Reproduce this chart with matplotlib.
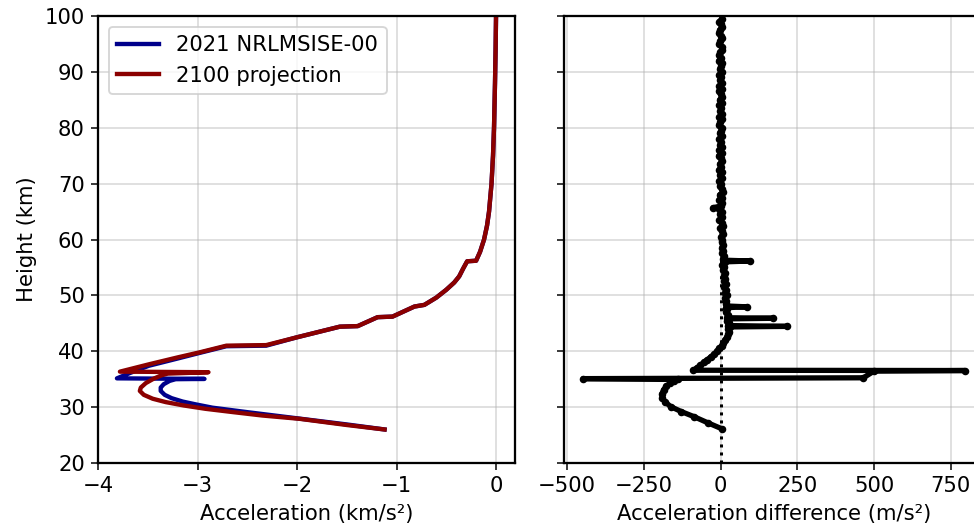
import matplotlib.pyplot as plt

plt.rcParams["font.size"] = 11.2

# left panel: acceleration profiles (km/s^2) vs height (km)
blue_acc = [-1.12, -1.5, -2.0, -2.5, -2.85, -3.02, -3.15, -3.26, -3.33, -3.37, -3.37,
            -3.34, -3.28, -3.22, -2.93, -3.81, -3.68, -3.49, -3.2, -2.98, -2.71,
            -2.31, -2.0, -1.57, -1.39, -1.19, -1.04, -0.82, -0.72, -0.6, -0.5,
            -0.42, -0.37, -0.33, -0.29, -0.2, -0.16, -0.12, -0.09, -0.07, -0.045,
            -0.03, -0.02, -0.01, -0.004, 0.0]
blue_h = [26.0, 26.9, 28.0, 29.1, 29.9, 30.5, 31.0, 31.6, 32.2, 32.9, 33.5,
          34.1, 34.7, 35.0, 35.05, 35.15, 36.1, 37.4, 38.7, 39.7, 40.9,
          41.0, 42.5, 44.4, 44.5, 46.1, 46.2, 48.0, 48.3, 49.6, 51.0,
          52.3, 53.4, 54.8, 56.1, 56.2, 57.8, 60.0, 62.5, 65.0, 70.0,
          75.0, 80.0, 88.0, 94.0, 99.5]

red_acc = [-1.12, -1.5, -1.97, -2.35, -2.64, -2.92, -3.14, -3.32, -3.45, -3.54,
           -3.58, -3.57, -3.52, -3.44, -3.36, -3.3, -2.89, -3.78, -3.48, -3.2,
           -2.98, -2.71, -2.31, -2.0, -1.57, -1.39, -1.19, -1.04, -0.82, -0.72,
           -0.6, -0.5, -0.42, -0.37, -0.33, -0.29, -0.2, -0.16, -0.12, -0.09,
           -0.07, -0.045, -0.03, -0.02, -0.01, -0.004, 0.0]
red_h = [26.0, 26.8, 27.9, 28.5, 29.1, 29.7, 30.3, 30.9, 31.5, 32.2,
         32.9, 33.5, 34.3, 35.1, 35.7, 36.0, 36.25, 36.35, 37.7, 38.9,
         39.8, 41.0, 41.1, 42.5, 44.4, 44.5, 46.1, 46.2, 48.0, 48.3,
         49.6, 51.0, 52.3, 53.4, 54.8, 56.1, 56.2, 57.8, 60.0, 62.5,
         65.0, 70.0, 75.0, 80.0, 88.0, 94.0, 99.5]

# right panel: acceleration difference (m/s^2) vs height (km)
diff_h = [99.5, 99, 98.5, 98, 97.5, 97, 96.5, 96, 95.5, 95, 94.5, 94, 93.5, 93,
          92.5, 92, 91.5, 91, 90.5, 90, 89.5, 89, 88.5, 88, 87.5, 87, 86.5, 86,
          85.5, 85, 84.5, 84, 83.5, 83, 82.5, 82, 81.5, 81, 80.5, 80, 79.5, 79,
          78.5, 78, 77.5, 77, 76.5, 76, 75.5, 75, 74.5, 74, 73.5, 73, 72.5, 72,
          71.5, 71, 70.5, 70, 69.5, 69, 68.5, 68, 67.5, 67, 66.5, 66, 65.7, 65.5,
          65, 64.5, 64, 63.5, 63, 62.5, 62, 61.5, 61, 60.5, 60, 59.5, 59, 58.5,
          58, 57.5, 57, 56.5, 56.3, 56.15, 56.0, 55.5, 55, 54.5, 54, 53.5, 53,
          52.5, 52, 51.5, 51, 50.5, 50, 49.5, 49, 48.5, 48.1, 47.95, 47.8, 47.5,
          47, 46.5, 46.0, 45.9, 45.8, 45.5, 45, 44.6, 44.45, 44.35, 44, 43.5, 43,
          42.5, 42, 41.5, 41, 40.5, 40, 39.5, 39, 38.5, 38, 37.5, 37, 36.6,
          36.55, 36.45, 35.25, 35.1, 34.95, 34.6, 34.3, 33.7, 33.1, 32.4, 31.6,
          30.9, 30.1, 29.2, 28.3, 27.2, 26.1]
diff_val = [3, -4, 2, 5, -3, -6, 1, 4, -2, -5, 3, 6, -1, -4,
            2, -6, 5, 1, -3, 4, -5, 2, -2, 6, -4, 3, -6, 1,
            4, -3, 5, -5, 2, -2, 6, -4, 3, -1, -6, 4, 1, -3,
            5, -5, 2, -2, 6, -4, 3, -6, 1, 5, -3, 2, -5, 4,
            -1, 6, -4, 2, -2, 5, 8, -3, 3, -5, 4, 1, -24, -6,
            5, -2, 6, -4, 3, 7, -1, 5, 9, 2, 6, 3, 8, 4,
            9, 5, 10, 7, 12, 95, 14, 6, 11, 8, 14, 10, 15,
            11, 17, 12, 18, 14, 20, 15, 19, 16, 21, 85, 18, 22,
            17, 24, 20, 170, 26, 21, 27, 23, 215, 29, 24, 28, 25,
            20, 14, 9, 3, -4, -12, -21, -32, -43, -55, -66, -78, -89,
            796, 500, 465, -448, -140, -152, -165, -178, -186, -191, -190,
            -180, -163, -128, -87, -42, 5]

left_ticks = [-4, -3, -2, -1, 0]
right_ticks = [-500, -250, 0, 250, 500, 750]
height_ticks = [20, 30, 40, 50, 60, 70, 80, 90, 100]

fig = plt.figure(figsize=(974 / 136, 528 / 136), dpi=136)
ax1 = fig.add_axes([0.1006, 0.1231, 0.4281, 0.8466])
ax2 = fig.add_axes([0.5791, 0.1231, 0.4312, 0.8466])

ax1.plot(blue_acc, blue_h, color="#00008B", lw=2.3, label="2021 NRLMSISE-00")
ax1.plot(red_acc, red_h, color="#8B0000", lw=2.3, label="2100 projection")
ax1.set_xticks(left_ticks)
ax1.set_yticks(height_ticks)
ax1.set_ylim(20, 100)
ax1.set_xlabel("Acceleration (km/s²)")
ax1.set_ylabel("Height (km)")
ax1.legend(loc="upper left")

ax2.axvline(0, color="k", ls=":", lw=1.6)
ax2.plot(diff_val, diff_h, "k-", lw=2.8, marker="o", ms=3,
         solid_capstyle="round", solid_joinstyle="round")
ax2.set_xticks(right_ticks)
ax2.set_yticks(height_ticks)
ax2.set_ylim(20, 100)
ax2.tick_params(labelleft=False)
ax2.set_xlabel("Acceleration difference (m/s²)")

for ax in (ax1, ax2):
    ax.grid(True, alpha=0.5)
    for s in ax.spines.values():
        s.set_linewidth(1.2)

fig.savefig("out.png", dpi=136)
